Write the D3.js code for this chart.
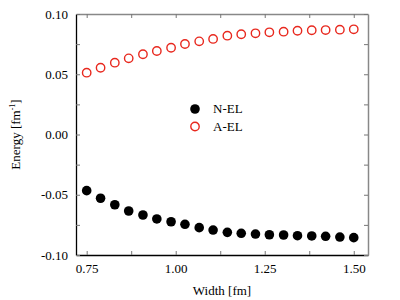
<!DOCTYPE html>
<html>
<head>
<meta charset="utf-8">
<script src="https://cdn.jsdelivr.net/npm/d3@7"></script>
<style>
  body { margin: 0; background: #fff; }
  svg text { font-family: "Liberation Serif", "DejaVu Serif", serif; }
</style>
</head>
<body>
<svg width="400" height="300"></svg>
<script>
var widths = [0.75, 0.789, 0.829, 0.868, 0.908, 0.947, 0.987, 1.026, 1.066, 1.105,
              1.145, 1.184, 1.224, 1.263, 1.303, 1.342, 1.382, 1.421, 1.461, 1.5];
var nEL = [-0.0466, -0.0529, -0.0583, -0.0635, -0.0668, -0.0701, -0.0724, -0.0745, -0.0773, -0.0793,
           -0.0812, -0.0820, -0.0826, -0.0832, -0.0834, -0.0840, -0.0842, -0.0845, -0.0851, -0.0856];
var aEL = [0.0513, 0.0554, 0.0596, 0.0632, 0.0666, 0.0693, 0.0720, 0.0751, 0.0773, 0.0793,
           0.0820, 0.0832, 0.0840, 0.0848, 0.0853, 0.0861, 0.0865, 0.0867, 0.0870, 0.0873];
var xTicks = [0.75, 1.00, 1.25, 1.50];
var xMinor = [0.875, 1.125, 1.375];
var yTicks = [-0.10, -0.05, 0.00, 0.05, 0.10];
var yMinor = [-0.075, -0.025, 0.025, 0.075];
var seriesNames = ["N-EL", "A-EL"];

var margin = {top: 14, right: 32, bottom: 45, left: 76},
    width = 400 - margin.left - margin.right,
    height = 300 - margin.top - margin.bottom;

var svg = d3.select("svg")
    .append("g").attr("transform", "translate(" + margin.left + "," + margin.top + ")");

var xScale = d3.scaleLinear().domain([0.72, 1.54]).range([0, width]);
var yScale = d3.scaleLinear().domain([-0.1, 0.1]).range([height, 0]);

var tickCol = "#777", fs = 13;
var fmt = function(d) { return d.toFixed(2); };

// all ticks point inward, on every side
var allX = xTicks.concat(xMinor), allY = yTicks.concat(yMinor);
var axB = svg.append("g").attr("transform", "translate(0," + height + ")")
    .call(d3.axisBottom(xScale).tickValues(allX).tickSize(-4).tickSizeOuter(0)
        .tickFormat(function(d) { return xTicks.indexOf(d) >= 0 ? fmt(d) : ""; }));
var axT = svg.append("g")
    .call(d3.axisTop(xScale).tickValues(allX).tickSize(-4).tickSizeOuter(0).tickFormat(""));
var axL = svg.append("g")
    .call(d3.axisLeft(yScale).tickValues(allY).tickSize(-4).tickSizeOuter(0)
        .tickFormat(function(d) { return yTicks.indexOf(d) >= 0 ? fmt(d) : ""; }));
var axR = svg.append("g").attr("transform", "translate(" + width + ",0)")
    .call(d3.axisRight(yScale).tickValues(allY).tickSize(-4).tickSizeOuter(0).tickFormat(""));

[axB, axT, axL, axR].forEach(function(a) {
    a.selectAll(".tick line").attr("stroke", tickCol);
    a.selectAll(".tick text").attr("font-size", fs).attr("font-family", "Liberation Serif").attr("fill", "#000");
});
axB.selectAll(".tick text").attr("y", 9);
axL.selectAll(".tick text").attr("x", -8);
axT.select(".domain").attr("stroke", "#888").attr("stroke-width", 1.5);
axR.select(".domain").attr("stroke", "#888").attr("stroke-width", 1.5);
axB.select(".domain").attr("stroke", "#000").attr("stroke-width", 1.3);
axL.select(".domain").attr("stroke", "#000").attr("stroke-width", 1.3);

svg.selectAll("circle.n").data(widths).enter().append("circle")
    .attr("class", "n")
    .attr("cx", function(d) { return xScale(d); })
    .attr("cy", function(d, i) { return yScale(nEL[i]); })
    .attr("r", 4.8)
    .attr("fill", "#000");

svg.selectAll("circle.a").data(widths).enter().append("circle")
    .attr("class", "a")
    .attr("cx", function(d) { return xScale(d); })
    .attr("cy", function(d, i) { return yScale(aEL[i]); })
    .attr("r", 4.2)
    .attr("fill", "none")
    .attr("stroke", "#e8281e")
    .attr("stroke-width", 1.4);

// legend
var lg = svg.append("g").attr("transform", "translate(119,95)");
lg.append("circle").attr("cx", 0).attr("cy", 0).attr("r", 4.8).attr("fill", "#000");
lg.append("circle").attr("cx", 0).attr("cy", 17.5).attr("r", 4.2)
    .attr("fill", "none").attr("stroke", "#e8281e").attr("stroke-width", 1.4);
lg.selectAll("text").data(seriesNames).enter().append("text")
    .attr("x", 18).attr("y", function(d, i) { return i * 17.5 + 4; })
    .attr("font-size", fs)
    .text(function(d) { return d; });

// axis titles
svg.append("text")
    .attr("x", width / 2).attr("y", height + 40)
    .attr("text-anchor", "middle").attr("font-size", fs)
    .text("Width [fm]");

var yl = svg.append("text")
    .attr("transform", "translate(-56," + (height / 2) + ") rotate(-90)")
    .attr("text-anchor", "middle").attr("font-size", fs);
yl.append("tspan").text("Energy [fm");
yl.append("tspan").attr("font-size", 8).attr("dy", -5).text("-1");
yl.append("tspan").attr("dy", 5).text("]");
</script>
</body>
</html>
